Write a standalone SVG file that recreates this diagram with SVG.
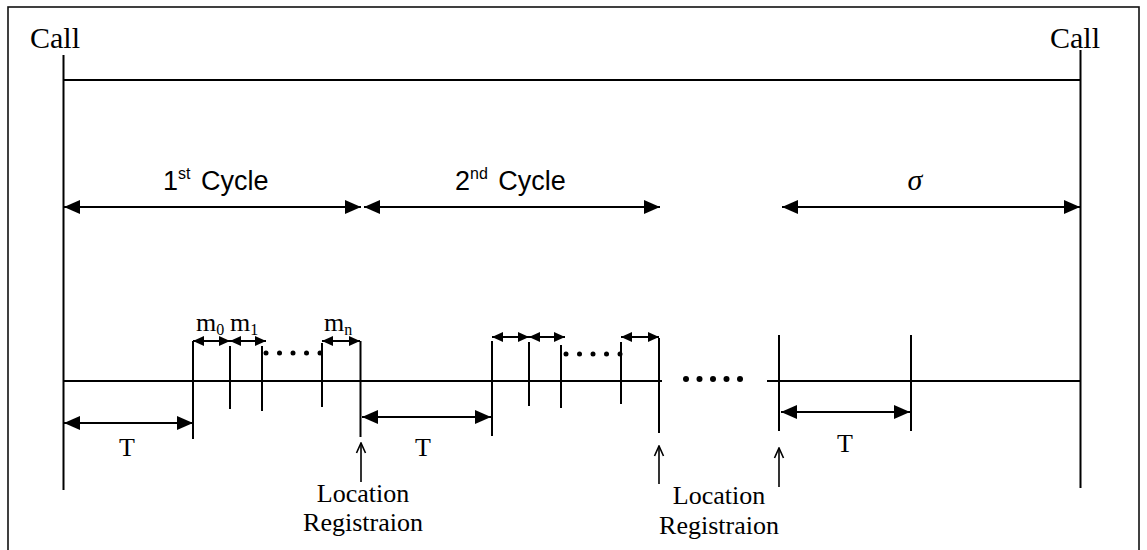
<svg xmlns="http://www.w3.org/2000/svg" width="1147" height="550" viewBox="0 0 1147 550">
  <style>
    .frame { fill: none; stroke: #111; stroke-width: 1.6; }
    .ln { stroke: #000; stroke-width: 2; fill: none; }
    .thin { stroke: #000; stroke-width: 1.6; fill: none; }
    .lbl { font-family: "Liberation Serif", "Times New Roman", serif; font-size: 26px; fill: #000; }
    .big { font-size: 30px; }
    .cyc { font-family: "Liberation Sans", Arial, sans-serif; font-size: 27px; word-spacing: 3px; }
    .sub { font-size: 16px; }
    .sup { font-size: 16px; }
    .sig { font-family: "Liberation Serif", "DejaVu Serif", serif; font-style: italic; font-size: 30px; fill: #000; }
    .dot { fill: #000; }
  </style>
  <defs>
    <marker id="headL" markerUnits="userSpaceOnUse" markerWidth="16" markerHeight="14" refX="16" refY="7" orient="auto-start-reverse">
      <path d="M0,0 L16,7 L0,14 z" fill="#000"/>
    </marker>
    <marker id="headS" markerUnits="userSpaceOnUse" markerWidth="11" markerHeight="10" refX="11" refY="5" orient="auto-start-reverse">
      <path d="M0,0 L11,5 L0,10 z" fill="#000"/>
    </marker>
    <marker id="headOpen" markerUnits="userSpaceOnUse" markerWidth="12" markerHeight="12" refX="11" refY="6" orient="auto">
      <path d="M1,1.5 L11,6 L1,10.5" fill="none" stroke="#000" stroke-width="1.6"/>
    </marker>
  </defs>

  <rect width="1147" height="550" fill="#fff"/>
  <rect class="frame" x="8" y="7" width="1131" height="560"/>

  <!-- call instants -->
  <g id="call-start">
    <text class="lbl big" x="30" y="48">Call</text>
    <line class="ln" x1="63.5" y1="55" x2="63.5" y2="490"/>
  </g>
  <g id="call-end">
    <text class="lbl big" x="1050" y="48">Call</text>
    <line class="ln" x1="1080.5" y1="50" x2="1080.5" y2="488"/>
  </g>

  <!-- cycle labels -->
  <g id="cycle-1">
    <text class="lbl cyc" x="163" y="190">1<tspan class="sup" dy="-11">st</tspan><tspan dy="11"> Cycle</tspan></text>
  </g>
  <g id="cycle-2">
    <text class="lbl cyc" x="455" y="190">2<tspan class="sup" dy="-11">nd</tspan><tspan dy="11"> Cycle</tspan></text>
  </g>
  <g id="residual">
    <text class="sig" x="915" y="190" text-anchor="middle">σ</text>
  </g>

  <!-- message labels -->
  <g id="messages">
    <text class="lbl" x="196" y="331">m<tspan class="sub" dy="4">0</tspan></text>
    <text class="lbl" x="230" y="331">m<tspan class="sub" dy="4">1</tspan></text>
    <text class="lbl" x="324" y="331">m<tspan class="sub" dy="4">n</tspan></text>
  </g>

  <!-- timer labels -->
  <g id="timers">
    <text class="lbl" x="127" y="456" text-anchor="middle">T</text>
    <text class="lbl" x="423" y="456" text-anchor="middle">T</text>
    <text class="lbl" x="845" y="452" text-anchor="middle">T</text>
  </g>

  <!-- registration labels -->
  <g id="registration-1">
    <text class="lbl" x="363" y="502" text-anchor="middle">Location</text>
    <text class="lbl" x="363" y="531" text-anchor="middle">Registraion</text>
  </g>
  <g id="registration-2">
    <text class="lbl" x="719" y="504" text-anchor="middle">Location</text>
    <text class="lbl" x="719" y="534" text-anchor="middle">Registraion</text>
  </g>

  <g id="connectors">
    <!-- call span -->
    <line class="ln" x1="63.5" y1="80" x2="1080.5" y2="80"/>

    <!-- cycle spans -->
    <line class="ln" x1="64" y1="207" x2="361" y2="207" marker-start="url(#headL)" marker-end="url(#headL)"/>
    <line class="ln" x1="364" y1="207" x2="660" y2="207" marker-start="url(#headL)" marker-end="url(#headL)"/>
    <line class="ln" x1="782" y1="207" x2="1080" y2="207" marker-start="url(#headL)" marker-end="url(#headL)"/>

    <!-- time axis -->
    <line class="ln" x1="63.5" y1="381" x2="662" y2="381"/>
    <line class="ln" x1="767" y1="381" x2="1080.5" y2="381"/>

    <!-- first cycle ticks -->
    <line class="ln" x1="193" y1="341" x2="193" y2="439"/>
    <line class="ln" x1="230" y1="346" x2="230" y2="409"/>
    <line class="ln" x1="262" y1="346" x2="262" y2="411"/>
    <line class="ln" x1="322" y1="343" x2="322" y2="407"/>
    <line class="ln" x1="360.5" y1="341" x2="360.5" y2="437"/>

    <!-- second cycle ticks -->
    <line class="ln" x1="492" y1="341" x2="492" y2="436"/>
    <line class="ln" x1="529" y1="342" x2="529" y2="406"/>
    <line class="ln" x1="561" y1="345" x2="561" y2="408"/>
    <line class="ln" x1="621" y1="342" x2="621" y2="404"/>
    <line class="ln" x1="659" y1="338" x2="659" y2="433"/>

    <!-- last interval ticks -->
    <line class="ln" x1="779" y1="335" x2="779" y2="431"/>
    <line class="ln" x1="911" y1="335" x2="911" y2="431"/>

    <!-- message spans -->
    <line class="ln" x1="193" y1="341" x2="230" y2="341" marker-start="url(#headS)" marker-end="url(#headS)"/>
    <line class="ln" x1="230" y1="341" x2="266" y2="341" marker-start="url(#headS)" marker-end="url(#headS)"/>
    <line class="ln" x1="322" y1="341" x2="360" y2="341" marker-start="url(#headS)" marker-end="url(#headS)"/>
    <line class="ln" x1="492" y1="337" x2="529" y2="337" marker-start="url(#headS)" marker-end="url(#headS)"/>
    <line class="ln" x1="529" y1="337" x2="565" y2="337" marker-start="url(#headS)" marker-end="url(#headS)"/>
    <line class="ln" x1="621" y1="337" x2="659" y2="337" marker-start="url(#headS)" marker-end="url(#headS)"/>

    <!-- timer spans -->
    <line class="ln" x1="64" y1="423" x2="193" y2="423" marker-start="url(#headL)" marker-end="url(#headL)"/>
    <line class="ln" x1="362" y1="417" x2="491" y2="417" marker-start="url(#headL)" marker-end="url(#headL)"/>
    <line class="ln" x1="781" y1="412" x2="910" y2="412" marker-start="url(#headL)" marker-end="url(#headL)"/>

    <!-- registration pointers -->
    <line class="thin" x1="361" y1="482" x2="361" y2="443" marker-end="url(#headOpen)"/>
    <line class="thin" x1="659" y1="484" x2="659" y2="446" marker-end="url(#headOpen)"/>
    <line class="thin" x1="779" y1="487" x2="779" y2="448" marker-end="url(#headOpen)"/>
  </g>

  <!-- ellipsis dots -->
  <g id="ellipses">
    <circle class="dot" cx="266" cy="353" r="2.5"/>
    <circle class="dot" cx="279.5" cy="353" r="2.5"/>
    <circle class="dot" cx="293" cy="353" r="2.5"/>
    <circle class="dot" cx="306.5" cy="353" r="2.5"/>
    <circle class="dot" cx="320" cy="353" r="2.5"/>

    <circle class="dot" cx="566" cy="354" r="2.5"/>
    <circle class="dot" cx="579.5" cy="354" r="2.5"/>
    <circle class="dot" cx="593" cy="354" r="2.5"/>
    <circle class="dot" cx="606.5" cy="354" r="2.5"/>
    <circle class="dot" cx="620" cy="354" r="2.5"/>

    <circle class="dot" cx="686" cy="379" r="3"/>
    <circle class="dot" cx="699.5" cy="379" r="3"/>
    <circle class="dot" cx="713" cy="379" r="3"/>
    <circle class="dot" cx="726.5" cy="379" r="3"/>
    <circle class="dot" cx="740" cy="379" r="3"/>
  </g>
</svg>
